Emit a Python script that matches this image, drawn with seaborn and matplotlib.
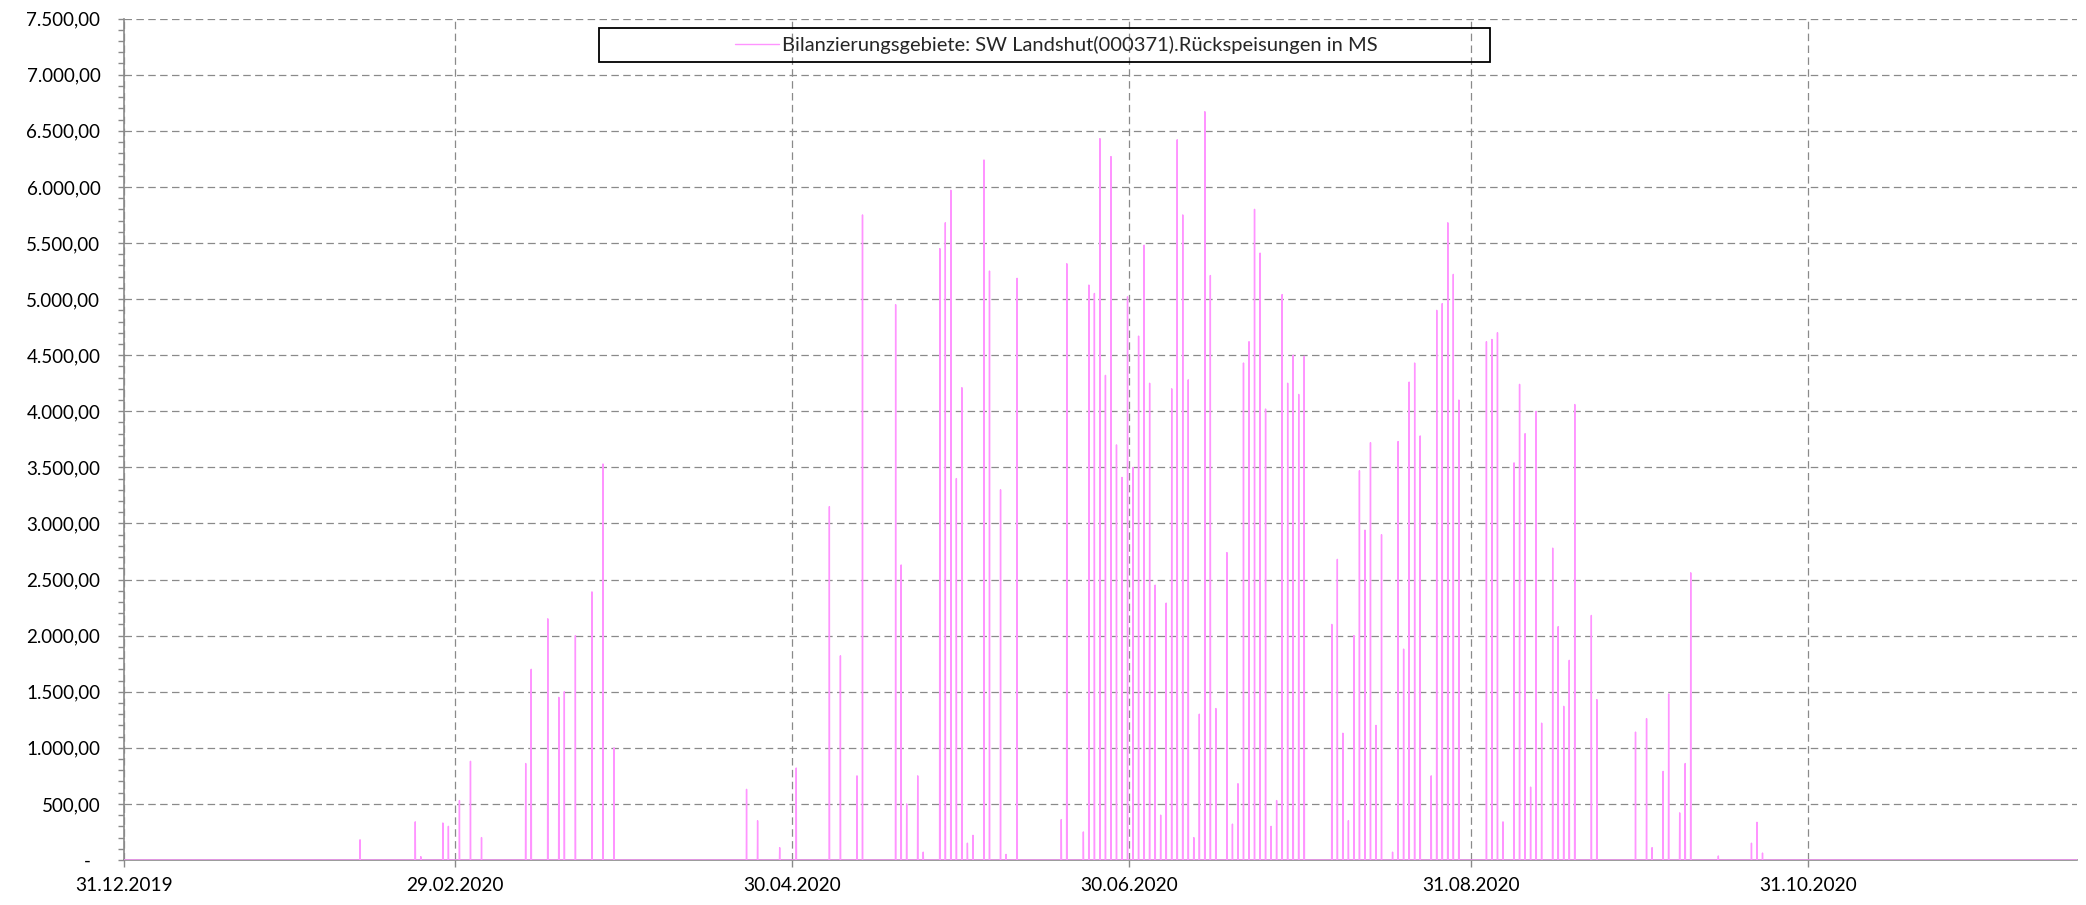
import numpy as np
import pandas as pd
import matplotlib
matplotlib.use("Agg")
import matplotlib.pyplot as plt
import matplotlib.patches as patches
from matplotlib.ticker import FuncFormatter, MultipleLocator
import seaborn as sns

# ---------------- data ----------------
start_date = "2019-12-31"
end_date = "2020-12-18 17:00"
series_name = "Bilanzierungsgebiete: SW Landshut(000371).Rückspeisungen in MS"
x_tick_labels = ["31.12.2019", "29.02.2020", "30.04.2020", "30.06.2020", "31.08.2020", "31.10.2020"]
y_ticks = [0, 500, 1000, 1500, 2000, 2500, 3000, 3500, 4000, 4500, 5000, 5500, 6000, 6500, 7000, 7500]

# day offsets (from 31.12.2019) of the feed-in peaks and their values
spike_day = [42, 52, 53, 57, 58, 60, 62, 64, 72, 73, 76, 78, 79, 81, 84, 86, 88,
             112, 114, 118, 121, 127, 129, 132, 133, 139, 140, 141, 143, 144,
             147, 148, 149, 150, 151, 152, 153, 155, 156, 158, 159, 161,
             169, 170, 173, 174, 175, 176, 177, 178, 179, 180, 181, 182, 183, 184,
             185, 186, 187, 188, 189, 190, 191, 192, 193, 194, 195, 196, 197,
             199, 200, 201, 202, 203, 204, 205, 206, 207, 208, 209, 210, 211, 212, 213,
             218, 219, 220, 221, 222, 223, 224, 225, 226, 227, 229, 230, 231, 232, 233,
             234, 236, 237, 238, 239, 240, 241, 246, 247, 248, 249, 251, 252, 253, 254,
             255, 256, 258, 259, 260, 261, 262, 265, 266, 273, 275, 276, 278, 279, 281,
             282, 283, 288, 294, 295, 296]
spike_value = [180, 340, 30, 330, 300, 530, 880, 200, 860, 1700, 2150, 1450, 1500, 2000, 2390, 3530, 1000,
               630, 350, 110, 820, 3150, 1820, 750, 5750, 4950, 2630, 500, 750, 70,
               5450, 5680, 5970, 3400, 4210, 150, 220, 6240, 5250, 3300, 50, 5185,
               360, 5315, 250, 5125, 5050, 6430, 4320, 6270, 3700, 3410, 5020, 3500, 4670, 5480,
               4250, 2450, 400, 2290, 4200, 6420, 5750, 4280, 200, 1300, 6670, 5210, 1350,
               2740, 320, 680, 4430, 4620, 5800, 5410, 4020, 300, 530, 5040, 4250, 4500, 4150, 4490,
               2100, 2680, 1130, 350, 2000, 3470, 2940, 3720, 1200, 2900, 70, 3730, 1880, 4260, 4430,
               3780, 750, 4900, 4960, 5680, 5220, 4100, 4620, 4640, 4700, 340, 3540, 4240, 3800, 650,
               4000, 1220, 2780, 2080, 1370, 1780, 4060, 2180, 1430, 1140, 1260, 110, 790, 1480, 420,
               860, 2560, 36, 150, 336, 62]
spike_hour = 18

# hourly time series: zero except at the peaks
t0 = pd.Timestamp(start_date)
hours = pd.date_range(t0, pd.Timestamp(end_date), freq="h")
vals = pd.Series(0.0, index=hours)
peak_times = t0 + pd.to_timedelta(spike_day, unit="D") + pd.Timedelta(hours=spike_hour)
vals.loc[peak_times] = spike_value
df = pd.DataFrame({"Zeit": hours, "Wert": vals.values})

# ---------------- style ----------------
sns.set_style("white")
plt.rcParams["font.family"] = ["Lato", "DejaVu Sans"]

W, H = 2086, 905
fig = plt.figure(figsize=(W / 100, H / 100), dpi=100)
ax = fig.add_axes([124 / W, 45 / H, 1953 / W, 841.4 / H])

line_color = "#ff94ff"
grid_color = "#8a8a8a"
axis_color = "#8a8a8a"

sns.lineplot(data=df, x="Zeit", y="Wert", ax=ax, color=line_color, linewidth=1.0,
             estimator=None, label=series_name, legend=False, zorder=3)

ax.set_xlim(t0, pd.Timestamp(end_date))
ax.set_ylim(0, 7500)

tick_dates = pd.to_datetime(x_tick_labels, format="%d.%m.%Y")
ax.set_xticks(tick_dates)
ax.set_xticklabels(x_tick_labels)
ax.set_yticks(y_ticks)


def de_fmt(v, pos):
    if abs(v) < 1e-9:
        return "-  "
    s = f"{v:,.2f}"
    return s.replace(",", "X").replace(".", ",").replace("X", ".")


ax.yaxis.set_major_formatter(FuncFormatter(de_fmt))
ax.yaxis.set_minor_locator(MultipleLocator(100))

ax.grid(True, which="major", color=grid_color, linestyle=(0, (6, 3.5)), linewidth=0.9)
ax.set_axisbelow(True)

for s in ["top", "right"]:
    ax.spines[s].set_visible(False)
for s in ["left", "bottom"]:
    ax.spines[s].set_color(axis_color)
    ax.spines[s].set_linewidth(1.2)

ax.tick_params(axis="y", which="major", length=4, width=1, color=axis_color,
               labelsize=13.5, labelcolor="black", pad=13, left=True)
ax.tick_params(axis="y", which="minor", length=4, width=1, color=axis_color, left=True)
ax.tick_params(axis="x", which="major", length=5, width=1, color=axis_color,
               labelsize=13.8, labelcolor="black", pad=7, bottom=True)
ax.set_xlabel("")
ax.set_ylabel("")

# legend with rectangular frame
bx0, by0, bw, bh = 0.2432, 0.9484, 0.4562, 0.0404
handles, labels = ax.get_legend_handles_labels()
leg = ax.legend(handles, labels, loc="center", bbox_to_anchor=(bx0 + bw / 2 + 0.006, by0 + bh / 2),
                frameon=False, fontsize=14.5, handlelength=2.2, handletextpad=0.15,
                borderaxespad=0)
for lh in leg.get_lines():
    lh.set_linewidth(1.0)
ax.add_patch(patches.Rectangle((bx0, by0), bw, bh, transform=ax.transAxes, fill=False,
                               edgecolor="black", linewidth=1.3, zorder=6, clip_on=False))

fig.savefig("out.png", dpi=100, facecolor="white")
